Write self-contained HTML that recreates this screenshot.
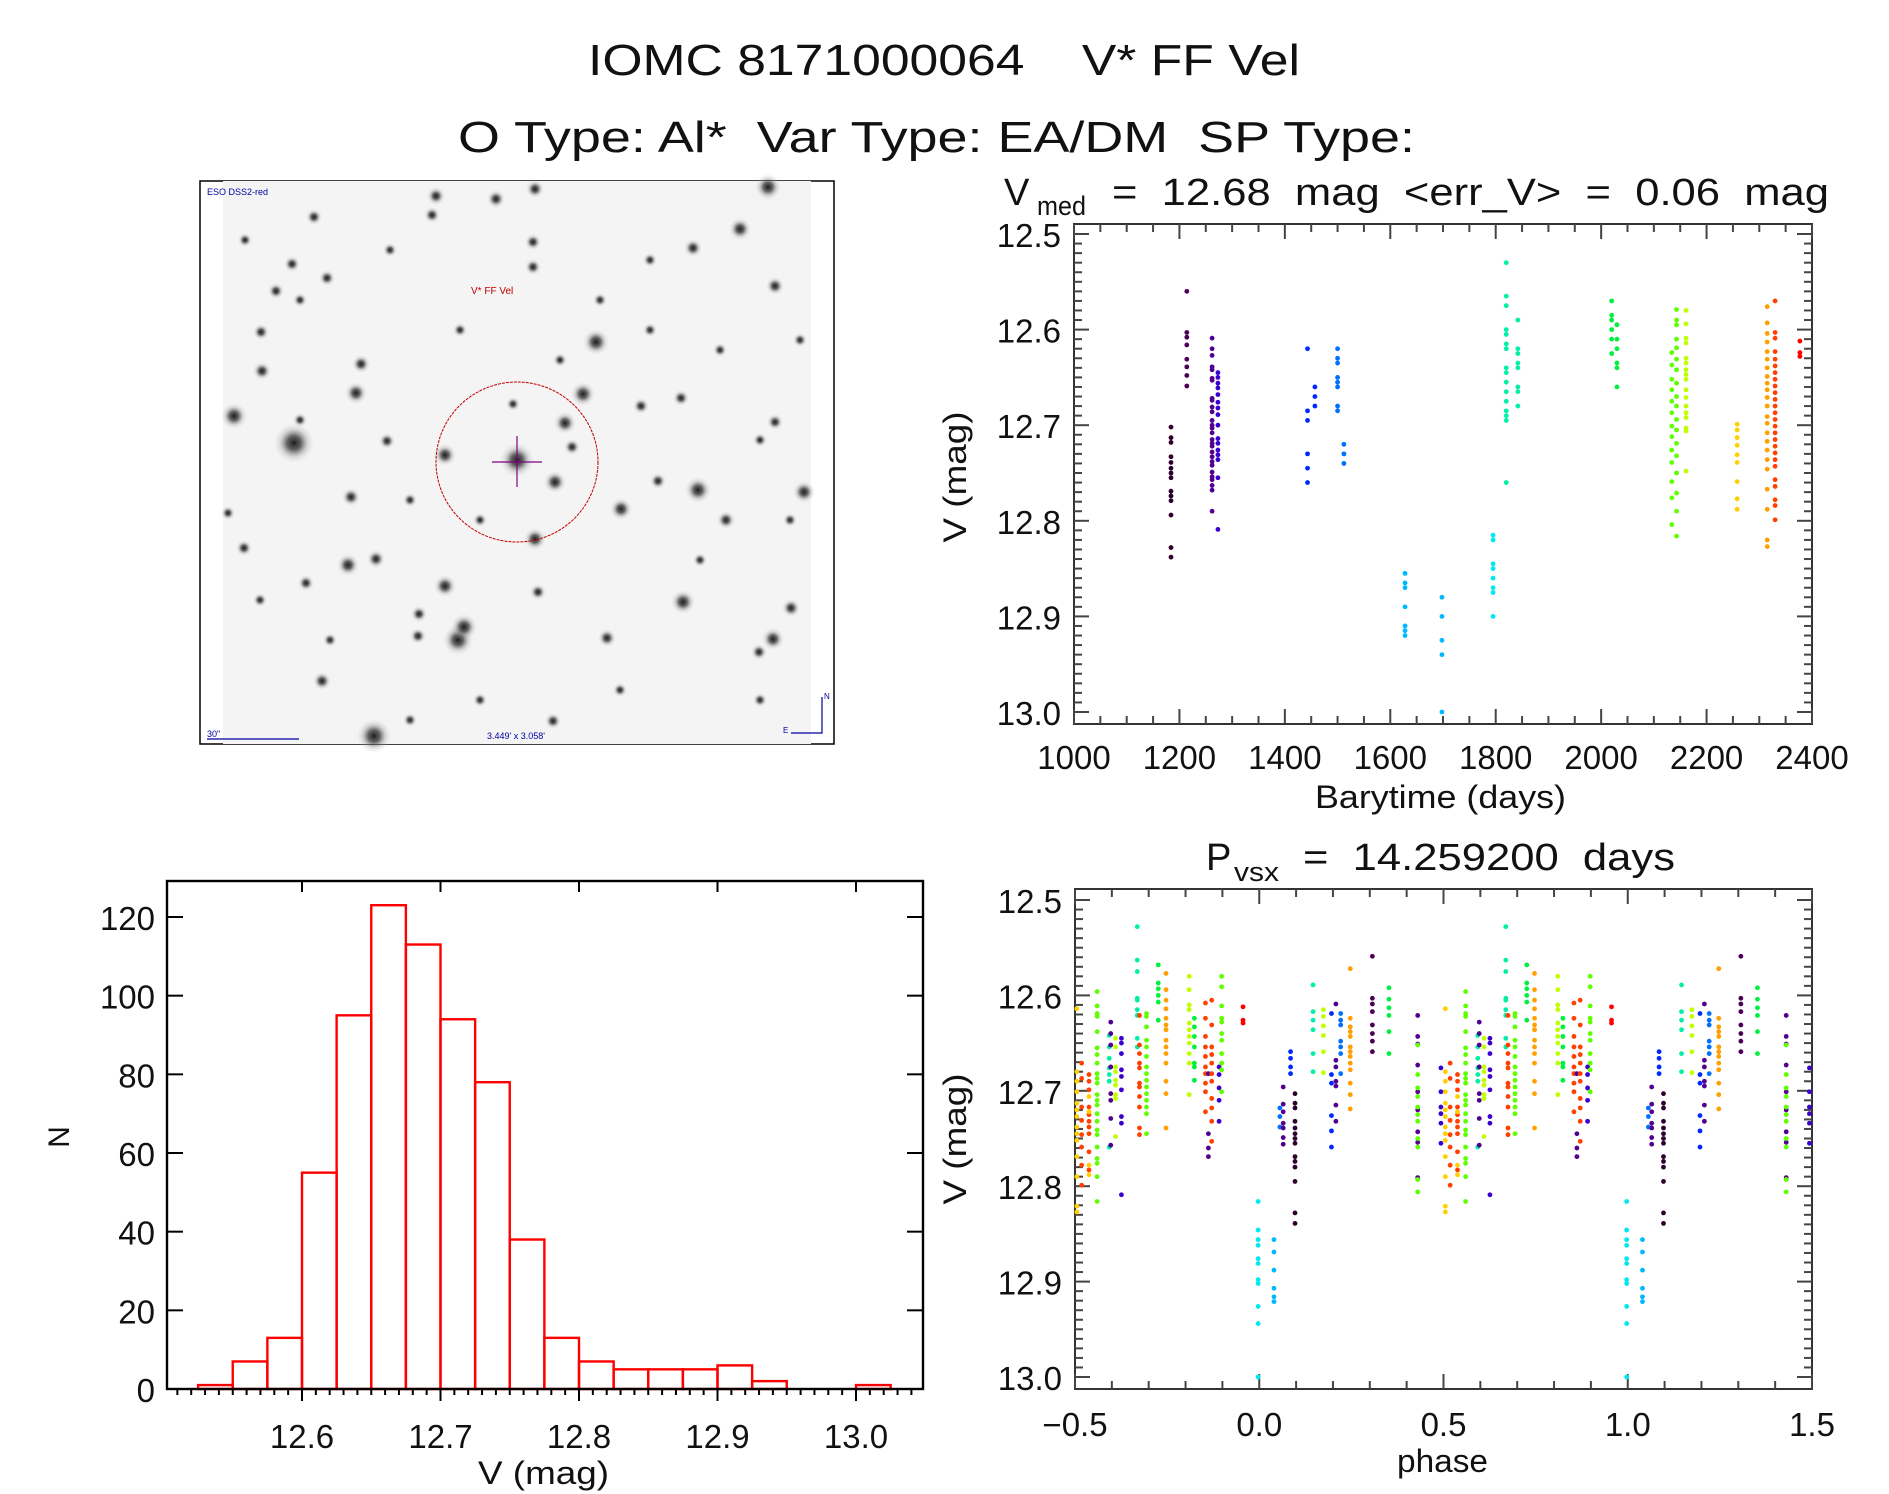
<!DOCTYPE html>
<html><head><meta charset="utf-8"><title>IOMC 8171000064 V* FF Vel</title>
<style>html,body{margin:0;padding:0;background:#fff}svg{display:block}text{font-family:"Liberation Sans",sans-serif;fill:#111;white-space:pre}</style></head>
<body>
<svg id="fig" width="1889" height="1494" viewBox="0 0 1889 1494" xmlns="http://www.w3.org/2000/svg">
<rect width="1889" height="1494" fill="#fff"/>
<text x="588" y="75" font-size="44" textLength="712" lengthAdjust="spacingAndGlyphs" xml:space="preserve">IOMC 8171000064    V* FF Vel</text>
<text x="458" y="152" font-size="44" textLength="957" lengthAdjust="spacingAndGlyphs" xml:space="preserve">O Type: Al*  Var Type: EA/DM  SP Type:</text>

<g>
<rect x="200" y="181" width="634" height="563" fill="none" stroke="#000" stroke-width="1.5"/>
<rect x="223" y="181" width="588" height="563" fill="#f4f4f4"/>
<g id="stars"></g>
<ellipse cx="517" cy="462" rx="81" ry="80" fill="none" stroke="#c00000" stroke-width="1" stroke-dasharray="3 1"/>
<line x1="492" y1="462" x2="542" y2="462" stroke="#800080" stroke-width="1.2"/>
<line x1="517" y1="436" x2="517" y2="487" stroke="#800080" stroke-width="1.2"/>
<text x="207" y="195" font-size="9" style="fill:#0000a0">ESO DSS2-red</text>
<text x="471" y="294" font-size="10" style="fill:#c00000">V* FF Vel</text>
<text x="207" y="737" font-size="9" style="fill:#0000a0">30"</text>
<line x1="207" y1="739" x2="299" y2="739" stroke="#0000a0" stroke-width="1.2"/>
<text x="487" y="739" font-size="9" style="fill:#0000a0">3.449' x 3.058'</text>
<polyline points="791,733 822,733 822,697" fill="none" stroke="#0000a0" stroke-width="1.2"/>
<text x="824" y="699" font-size="8" style="fill:#0000a0">N</text>
<text x="783" y="733" font-size="8" style="fill:#0000a0">E</text>
</g>

<g id="lc"></g>
<g id="ph"></g>
<g id="hist"></g>
</svg>
<script>
// ---------------- data ----------------
const palette = ['#2e002e','#4b0055','#520090','#3a00d0','#0028ff','#0070ff','#00b8ff','#00e8f0','#00f0a8','#00f040','#60ff00','#c0ff00','#ffd000','#ffa000','#ff4000','#ff0000'];
const lcTimes = [1184,1214,1262,1273,1443,1457,1500,1512,1628,1698,1795,1820,1842,2020,2030,2134,2143,2161,2258,2315,2330,2377];
const lcColorIdx = [0,1,2,3,4,4,5,5,6,6,7,8,8,9,9,10,10,11,12,13,14,15];
const lcMags = [
 [12.702,12.713,12.718,12.733,12.739,12.745,12.75,12.755,12.769,12.774,12.779,12.794,12.828,12.838],
 [12.56,12.603,12.608,12.616,12.631,12.639,12.648,12.659],
 [12.609,12.62,12.627,12.639,12.642,12.651,12.653,12.672,12.674,12.681,12.686,12.695,12.7,12.703,12.708,12.715,12.719,12.722,12.728,12.733,12.738,12.742,12.749,12.754,12.757,12.763,12.768,12.79],
 [12.645,12.65,12.656,12.661,12.668,12.676,12.682,12.689,12.7,12.714,12.719,12.726,12.731,12.736,12.755,12.809],
 [12.62,12.685,12.695,12.73,12.745,12.76],
 [12.66,12.67,12.68],
 [12.62,12.63,12.635,12.65,12.655,12.66,12.68,12.685],
 [12.72,12.73,12.74],
 [12.855,12.865,12.87,12.89,12.91,12.915,12.92],
 [12.88,12.90,12.925,12.94,13.0],
 [12.815,12.82,12.845,12.85,12.86,12.87,12.875,12.90],
 [12.53,12.565,12.575,12.60,12.605,12.615,12.62,12.64,12.645,12.655,12.665,12.675,12.685,12.69,12.695,12.76],
 [12.59,12.62,12.625,12.635,12.64,12.66,12.665,12.68],
 [12.57,12.585,12.59,12.6,12.61,12.625],
 [12.595,12.61,12.62,12.635,12.64,12.66],
 [12.624,12.637,12.652,12.663,12.675,12.687,12.701,12.712,12.726,12.739,12.759,12.776,12.804],
 [12.579,12.59,12.595,12.61,12.619,12.631,12.642,12.656,12.67,12.68,12.694,12.705,12.719,12.732,12.75,12.771,12.79,12.816],
 [12.58,12.594,12.609,12.614,12.63,12.635,12.642,12.647,12.652,12.663,12.671,12.68,12.687,12.692,12.703,12.706,12.748],
 [12.699,12.705,12.713,12.721,12.731,12.739,12.759,12.777,12.788],
 [12.576,12.593,12.604,12.613,12.623,12.631,12.64,12.649,12.656,12.663,12.671,12.68,12.691,12.698,12.708,12.717,12.726,12.736,12.746,12.767,12.788,12.82,12.827],
 [12.57,12.603,12.609,12.623,12.631,12.638,12.645,12.652,12.659,12.666,12.673,12.68,12.687,12.694,12.701,12.708,12.715,12.722,12.729,12.736,12.743,12.757,12.764,12.778,12.784,12.799],
 [12.612,12.624,12.628]
];
const lcXTicks = [1000,1200,1400,1600,1800,2000,2200,2400];
const magTicks = [12.5,12.6,12.7,12.8,12.9,13.0];
const magTickLabels = ['12.5','12.6','12.7','12.8','12.9','13.0'];

const phPhases = [0.505,0.518,0.538,0.538,0.56,0.593,0.597,0.61,0.626,0.669,0.675,0.694,0.726,0.747,0.81,0.824,0.854,0.862,0.871,0.891,0.898,0.956,0.997,0.04,0.056,0.065,0.085,0.097,0.146,0.174,0.196,0.208,0.221,0.247,0.307,0.352,0.43,0.43,0.493];
const phColorIdx = [12,14,14,12,10,8,2,11,3,8,14,10,9,13,11,9,14,2,14,3,10,15,7,6,5,2,4,0,8,11,4,2,5,13,1,9,2,10,3];
const phMags = [
 [12.614,12.680,12.690,12.701,12.713,12.720,12.727,12.738,12.745,12.752,12.769,12.790,12.821,12.827],
 [12.671,12.687,12.717,12.731,12.746,12.759,12.778,12.799],
 [12.683,12.690,12.699,12.717,12.725,12.732,12.738,12.745,12.764,12.783],
 [12.706,12.722,12.778,12.788],
 [12.596,12.611,12.619,12.622,12.638,12.655,12.662,12.671,12.682,12.687,12.692,12.704,12.710,12.715,12.724,12.732,12.741,12.746,12.759,12.771,12.776,12.790,12.816],
 [12.642,12.654,12.666,12.676,12.683,12.690,12.759],
 [12.628,12.640,12.652,12.675,12.703,12.710,12.729,12.757],
 [12.645,12.654,12.675,12.680,12.689,12.694,12.704,12.708,12.748],
 [12.645,12.650,12.661,12.678,12.685,12.699,12.727,12.734,12.809],
 [12.528,12.563,12.575,12.603,12.605,12.615,12.621,12.645,12.654],
 [12.621,12.652,12.661,12.671,12.676,12.692,12.696,12.706,12.717,12.739,12.746],
 [12.619,12.622,12.633,12.647,12.654,12.664,12.675,12.682,12.689,12.696,12.703,12.710,12.717,12.724,12.745],
 [12.568,12.587,12.593,12.600,12.607,12.626],
 [12.577,12.594,12.605,12.614,12.624,12.631,12.636,12.647,12.654,12.661,12.671,12.690,12.703,12.739],
 [12.580,12.594,12.610,12.615,12.629,12.636,12.643,12.650,12.661,12.671,12.704],
 [12.624,12.633,12.643,12.654,12.671,12.675,12.689],
 [12.608,12.624,12.643,12.654,12.664,12.675,12.682,12.692,12.701,12.722],
 [12.682,12.745,12.760,12.769],
 [12.605,12.631,12.654,12.662,12.671,12.682,12.690,12.708,12.718,12.732,12.753],
 [12.675,12.683,12.697,12.710,12.732],
 [12.580,12.591,12.611,12.624,12.628,12.640,12.647,12.661,12.671,12.678,12.701],
 [12.612,12.626,12.629],
 [12.816,12.846,12.856,12.862,12.876,12.881,12.898,12.902,12.926,12.944,13.000],
 [12.856,12.869,12.888,12.907,12.916,12.921],
 [12.718,12.727,12.738],
 [12.696,12.714,12.722,12.734,12.739,12.749,12.756],
 [12.659,12.666,12.675,12.682],
 [12.703,12.713,12.718,12.732,12.739,12.745,12.750,12.755,12.769,12.774,12.780,12.795,12.828,12.839],
 [12.589,12.617,12.626,12.636,12.661,12.680],
 [12.615,12.622,12.632,12.642,12.659,12.681],
 [12.619,12.683,12.692,12.726,12.742,12.759],
 [12.609,12.668,12.675,12.690,12.695,12.715,12.732],
 [12.619,12.626,12.631,12.648,12.654,12.661,12.682],
 [12.572,12.624,12.633,12.638,12.643,12.654,12.659,12.664,12.671,12.678,12.692,12.704,12.719],
 [12.559,12.603,12.609,12.617,12.631,12.640,12.648,12.659],
 [12.592,12.604,12.613,12.621,12.638,12.661],
 [12.621,12.643,12.651,12.673,12.701,12.720,12.743,12.754,12.791],
 [12.652,12.683,12.697,12.706,12.717,12.725,12.732,12.750,12.759,12.793,12.806],
 [12.676,12.701,12.717,12.724,12.734,12.755]
];
const phXTicks = [-0.5,0,0.5,1.0,1.5];
const phXTickLabels = ['\u22120.5','0.0','0.5','1.0','1.5'];

const histBinStarts = [12.525,12.55,12.575,12.6,12.625,12.65,12.675,12.7,12.725,12.75,12.775,12.8,12.825,12.85,12.875,12.9,12.925,12.95,12.975,13.0];
const histCounts = [1,7,13,55,95,123,113,94,78,38,13,7,5,5,5,6,2,0,0,1];
const histXTicks = [12.6,12.7,12.8,12.9,13.0];
const histXTickLabels = ['12.6','12.7','12.8','12.9','13.0'];
const histYTicks = [0,20,40,60,80,100,120];
const histBinWidth = 0.025;

// ---------------- helpers ----------------
const NS = 'http://www.w3.org/2000/svg';
function mk(tag, attrs, parent){const e=document.createElementNS(NS,tag);for(const k in attrs)e.setAttribute(k,attrs[k]);parent.appendChild(e);return e;}
function lin(d0,d1,r0,r1){return v=>r0+(v-d0)*(r1-r0)/(d1-d0);}

function magAxes(g, L, R, T, B, yScale){
  for(let i=0;i<=50;i++){
    const m=12.5+i*0.01; const y=yScale(m); if(y<T||y>B) continue;
    const major = (i%10===0); const len = major?15:8;
    mk('line',{x1:L,y1:y,x2:L+len,y2:y,stroke:'#444','stroke-width':2},g);
    mk('line',{x1:R,y1:y,x2:R-len,y2:y,stroke:'#444','stroke-width':2},g);
  }
  magTicks.forEach((m,i)=>{
    const t=mk('text',{x:L-13,y:yScale(m)+13,'font-size':33,'text-anchor':'end'},g);
    
    
    t.textContent=magTickLabels[i];
  });
}

// ---------------- light curve ----------------
(function(){
  const g=document.getElementById('lc');
  const L=1074,R=1812,T=224,B=724;
  const x=lin(1000,2400,L,R), y=lin(12.5,13.0,234,712);
  mk('rect',{x:L,y:T,width:R-L,height:B-T,fill:'none',stroke:'#333','stroke-width':2},g);
  for(let v=1000;v<=2400;v+=50){
    const major=(v%200===0); const len=major?15:8; const px=x(v);
    mk('line',{x1:px,y1:B,x2:px,y2:B-len,stroke:'#444','stroke-width':2},g);
    mk('line',{x1:px,y1:T,x2:px,y2:T+len,stroke:'#444','stroke-width':2},g);
  }
  lcXTicks.forEach(v=>{
    const t=mk('text',{x:x(v),y:769,'font-size':33,'text-anchor':'middle'},g);
    
    
    t.textContent=String(v);
  });
  magAxes(g,L,R,T,B,y);
  lcMags.forEach((arr,ci)=>{
    arr.forEach(m=>{
      const c=mk('circle',{cx:x(lcTimes[ci]),cy:y(m),r:2.4,fill:palette[lcColorIdx[ci]]},g);
      
      
    });
  });
  let t=mk('text',{x:1004,y:205,'font-size':38},g); t.textContent='V';
   
  t=mk('text',{x:1037,y:215,'font-size':27,textLength:49,lengthAdjust:'spacingAndGlyphs'},g); t.textContent='med';
  t=mk('text',{x:1112,y:205,'font-size':38,textLength:717,lengthAdjust:'spacingAndGlyphs'},g); t.textContent='=  12.68  mag  <err_V>  =  0.06  mag';
  t=mk('text',{x:1315,y:808,'font-size':32,textLength:251,lengthAdjust:'spacingAndGlyphs'},g); t.textContent='Barytime (days)';
   
  t=mk('text',{x:0,y:0,'font-size':32,'text-anchor':'middle',transform:'translate(966,477) rotate(-90)',textLength:131,lengthAdjust:'spacingAndGlyphs'},g); t.textContent='V (mag)';
   
})();

// ---------------- phase plot ----------------
(function(){
  const g=document.getElementById('ph');
  const L=1075,R=1812,T=889,B=1389;
  const x=lin(-0.5,1.5,L,R), y=lin(12.5,13.0,900,1377);
  mk('rect',{x:L,y:T,width:R-L,height:B-T,fill:'none',stroke:'#333','stroke-width':2},g);
  for(let i=0;i<=20;i++){
    const v=-0.5+i*0.1; const major=(i%5===0); const len=major?15:8; const px=x(v);
    mk('line',{x1:px,y1:B,x2:px,y2:B-len,stroke:'#444','stroke-width':2},g);
    mk('line',{x1:px,y1:T,x2:px,y2:T+len,stroke:'#444','stroke-width':2},g);
  }
  phXTicks.forEach((v,i)=>{
    const t=mk('text',{x:x(v),y:1436,'font-size':33,'text-anchor':'middle'},g);
    
    
    t.textContent=phXTickLabels[i];
  });
  magAxes(g,L,R,T,B,y);
  phMags.forEach((arr,ci)=>{
    [-1,0,1].forEach(k=>{
      const p=phPhases[ci]+k; if(p<-0.5||p>1.5) return;
      arr.forEach(m=>{
        const c=mk('circle',{cx:x(p),cy:y(m),r:2.4,fill:palette[phColorIdx[ci]]},g);
        
        
      });
    });
  });
  let t=mk('text',{x:1206,y:870,'font-size':38},g); t.textContent='P';
   
  t=mk('text',{x:1234,y:881,'font-size':27,textLength:45,lengthAdjust:'spacingAndGlyphs'},g); t.textContent='vsx';
  t=mk('text',{x:1303,y:870,'font-size':38,textLength:372,lengthAdjust:'spacingAndGlyphs'},g); t.textContent='=  14.259200  days';
  t=mk('text',{x:1397,y:1472,'font-size':32,textLength:91,lengthAdjust:'spacingAndGlyphs'},g); t.textContent='phase';
   
  t=mk('text',{x:0,y:0,'font-size':32,'text-anchor':'middle',transform:'translate(966,1139) rotate(-90)',textLength:131,lengthAdjust:'spacingAndGlyphs'},g); t.textContent='V (mag)';
   
})();

// ---------------- histogram ----------------
(function(){
  const g=document.getElementById('hist');
  const L=167,R=923,T=881,B=1389;
  const x=lin(12.6,13.0,302,856), y=lin(0,60,1389,1153);
  histCounts.forEach((n,i)=>{
    const x0=x(histBinStarts[i]), x1=x(histBinStarts[i]+histBinWidth);
    const r=mk('rect',{x:x0,y:y(n),width:x1-x0,height:y(0)-y(n),fill:'none',stroke:'#ff0000','stroke-width':2.4},g);
    
    
  });
  mk('rect',{x:L,y:T,width:R-L,height:B-T,fill:'none',stroke:'#000','stroke-width':2.4},g);
  for(let i=1;i<=54;i++){
    const v=12.5+i*0.01; const px=x(v); if(px<L||px>R) continue;
    const major=(i%10===0);
    mk('line',{x1:px,y1:B,x2:px,y2:B+(major?12:6),stroke:'#000','stroke-width':2},g);
    if(major) mk('line',{x1:px,y1:T,x2:px,y2:T+11,stroke:'#000','stroke-width':2},g);
  }
  histXTicks.forEach((v,i)=>{
    const t=mk('text',{x:x(v),y:1448,'font-size':33,'text-anchor':'middle'},g);
    
    
    t.textContent=histXTickLabels[i];
  });
  histYTicks.forEach(v=>{
    const py=y(v);
    mk('line',{x1:L,y1:py,x2:L+16,y2:py,stroke:'#000','stroke-width':2},g);
    mk('line',{x1:R,y1:py,x2:R-16,y2:py,stroke:'#000','stroke-width':2},g);
    const t=mk('text',{x:155,y:py+13,'font-size':33,'text-anchor':'end'},g);
    
    
    t.textContent=String(v);
  });
  let t=mk('text',{x:478,y:1484,'font-size':32,textLength:131,lengthAdjust:'spacingAndGlyphs'},g); t.textContent='V (mag)';
   
  t=mk('text',{x:0,y:0,'font-size':30,'text-anchor':'middle',transform:'translate(69,1137) rotate(-90)'},g); t.textContent='N';
   
})();

// ---------------- sky image stars (decoration) ----------------
(function(){
  const g=document.getElementById('stars');
  const defs=mk('defs',{},g);
  const rg=mk('radialGradient',{id:'sg'},defs);
  mk('stop',{offset:'0','stop-color':'#111','stop-opacity':'0.95'},rg);
  mk('stop',{offset:'0.35','stop-color':'#333','stop-opacity':'0.75'},rg);
  mk('stop',{offset:'0.7','stop-color':'#888','stop-opacity':'0.25'},rg);
  mk('stop',{offset:'1','stop-color':'#bbb','stop-opacity':'0'},rg);
  const stars=[[294,443,20],[234,416,13],[517,460,17],[596,342,13],[583,394,12],[565,423,11],[555,482,11],[445,455,11],[698,490,13],[804,492,11],[621,509,11],[683,602,12],[458,640,15],[464,627,13],[445,586,11],[356,393,11],[361,364,9],[348,565,11],[376,559,9],[768,187,13],[740,229,11],[607,638,9],[773,639,11],[791,608,9],[322,681,9],[374,736,17],[535,539,11],[726,520,9],[775,286,9],[693,248,9],[533,242,8],[533,267,8],[436,196,9],[496,199,9],[535,189,9],[432,215,8],[314,217,8],[262,371,9],[261,332,8],[276,291,8],[292,264,8],[327,278,8],[351,497,9],[387,441,8],[419,614,8],[418,636,8],[658,481,8],[641,406,8],[681,398,8],[775,422,8],[244,548,8],[306,583,8],[538,592,8],[553,721,8],[513,404,7],[572,447,8],[759,652,8],[228,513,7],[300,420,7],[410,500,7],[480,520,7],[600,300,7],[650,330,7],[720,350,7],[760,440,7],[700,560,7],[620,690,7],[480,700,7],[330,640,7],[260,600,7],[300,300,7],[390,250,7],[460,330,7],[560,360,7],[650,260,7],[790,520,7],[760,700,7],[410,720,7],[245,240,7],[800,340,7]];
  stars.forEach(s=>mk('circle',{cx:s[0],cy:s[1],r:s[2],fill:'url(#sg)'},g));
})();
</script>
</body></html>
